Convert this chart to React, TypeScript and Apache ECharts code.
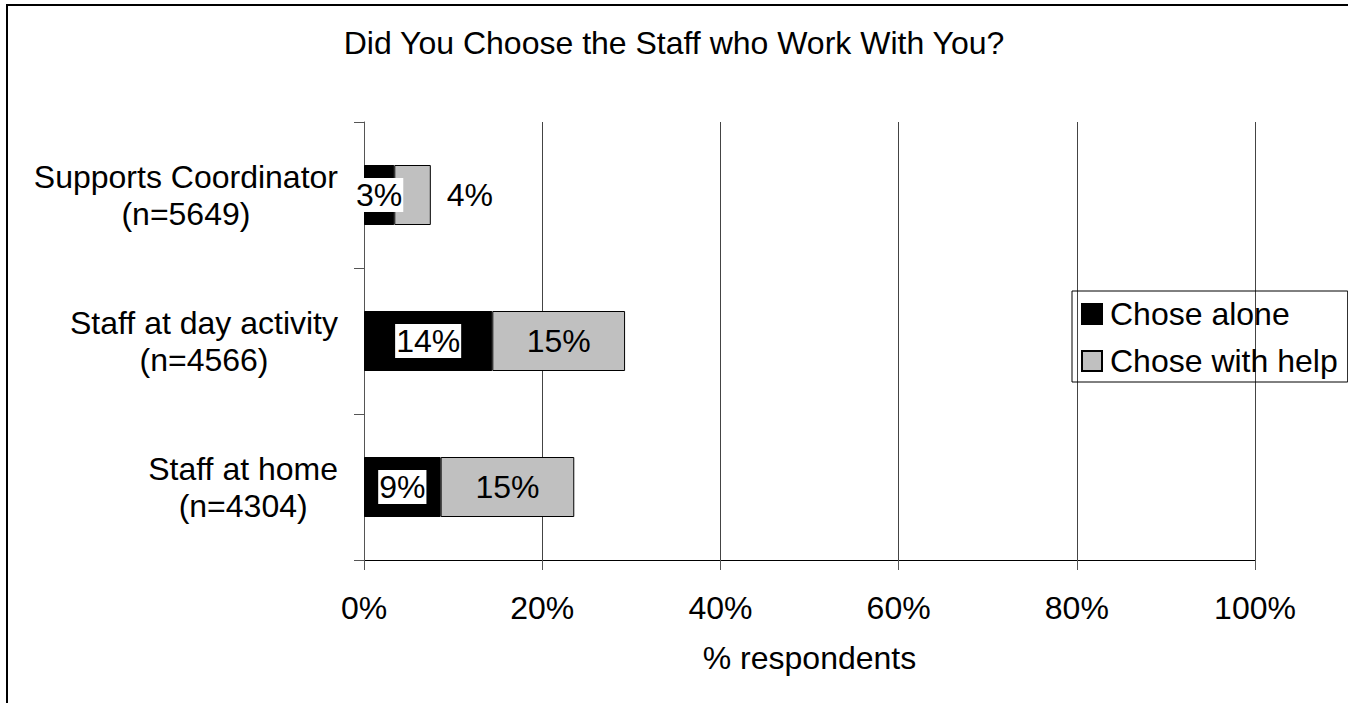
import React, { useEffect, useRef } from "react";
import * as echarts from "echarts";

const titleText = "Did You Choose the Staff who Work With You?";
const categories = ["Supports Coordinator\n(n=5649)", "Staff at day activity\n(n=4566)", "Staff at home\n(n=4304)"];
const choseAlone = [3.4, 14.4, 8.6];
const choseWithHelp = [4.1, 14.9, 15.0];
const seriesNames = ["Chose alone", "Chose with help"];
const xTicks = [0, 20, 40, 60, 80, 100];
const xAxisName = "% respondents";

const FONT = "'Liberation Sans', Arial, sans-serif";
const FS = 32;

export default function App() {
  const ref = useRef<HTMLDivElement>(null);
  useEffect(() => {
    if (!ref.current) return;
    const chart = echarts.init(ref.current, undefined, { renderer: "svg" });
    const fmt = (p: any) => Math.round(p.value) + "%";
    chart.setOption({
      animation: false,
      backgroundColor: "#fff",
      textStyle: { fontFamily: FONT, color: "#000" },
      title: {
        text: titleText,
        left: "center",
        top: 27,
        padding: 0,
        textStyle: { fontFamily: FONT, fontSize: FS, fontWeight: "normal", color: "#000" },
      },
      graphic: [
        {
          type: "rect",
          shape: { x: 7, y: 5, width: 1500, height: 900 },
          style: { fill: "none", stroke: "#000", lineWidth: 2 },
          silent: true,
        },
      ],
      legend: {
        left: 1072,
        top: 291,
        orient: "vertical",
        selectedMode: false,
        itemWidth: 20,
        itemHeight: 20,
        itemGap: 15,
        padding: [7, 10, 5, 9],
        borderColor: "#000",
        borderWidth: 1,
        icon: "rect",
        textStyle: { fontFamily: FONT, fontSize: FS, color: "#000", padding: [0, 0, 0, 3] },
        data: seriesNames,
      },
      grid: { left: 364, right: 93, top: 122, bottom: 143, containLabel: false },
      xAxis: {
        type: "value",
        min: xTicks[0],
        max: xTicks[xTicks.length - 1],
        interval: xTicks[1] - xTicks[0],
        name: xAxisName,
        nameLocation: "middle",
        nameGap: 82,
        nameTextStyle: { fontFamily: FONT, fontSize: FS, color: "#000" },
        axisLine: { show: true, lineStyle: { color: "#000", width: 1 } },
        axisTick: { show: true, length: 10, lineStyle: { color: "#555" } },
        axisLabel: { formatter: "{value}%", fontFamily: FONT, fontSize: FS, color: "#000", margin: 32 },
        splitLine: { show: true, lineStyle: { color: "#444", width: 1 } },
      },
      yAxis: {
        type: "category",
        inverse: true,
        data: categories,
        axisLine: { show: true, lineStyle: { color: "#555", width: 1 } },
        axisTick: { show: true, length: 10, lineStyle: { color: "#555" } },
        axisLabel: {
          margin: 26,
          formatter: (v: string) =>
            v
              .split("\n")
              .map((s) => "{a|" + s + "}")
              .join("\n"),
          rich: {
            a: { fontFamily: FONT, fontSize: FS, color: "#000", align: "center", lineHeight: 37 },
          },
        },
        splitLine: { show: false },
      },
      series: [
        {
          name: seriesNames[0],
          type: "bar",
          stack: "total",
          barWidth: 60,
          data: choseAlone,
          itemStyle: { color: "#000", borderColor: "#000", borderWidth: 1 },
          label: {
            show: true,
            position: "inside",
            formatter: fmt,
            fontFamily: FONT,
            fontSize: FS,
            color: "#000",
            backgroundColor: "#fff",
            padding: [2, 1, 0, 1],
          },
        },
        {
          name: seriesNames[1],
          type: "bar",
          stack: "total",
          barWidth: 60,
          data: choseWithHelp.map((v, i) =>
            i === 0 ? { value: v, label: { position: "right", distance: 16 } } : v
          ),
          itemStyle: { color: "#c0c0c0", borderColor: "#000", borderWidth: 1 },
          label: {
            show: true,
            position: "inside",
            formatter: fmt,
            fontFamily: FONT,
            fontSize: FS,
            color: "#000",
          },
        },
      ],
    });
    return () => chart.dispose();
  }, []);
  return (
    <div
      ref={ref}
      style={{ position: "absolute", left: 0, top: 0, width: 1348, height: 703 }}
    />
  );
}
